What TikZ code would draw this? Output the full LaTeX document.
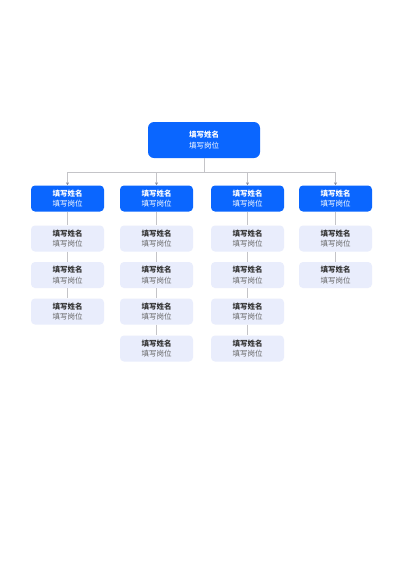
\documentclass[tikz,border=0pt]{standalone}
\usepackage{fontspec}
\setmainfont{Noto Sans CJK SC}
\usetikzlibrary{arrows.meta}
\definecolor{mainblue}{HTML}{0A66FF}
\definecolor{lightbox}{HTML}{E9EDFC}
\definecolor{linegray}{HTML}{C4C4C8}
\definecolor{tipgray}{HTML}{8A8FA0}
\definecolor{namegray}{HTML}{333333}
\definecolor{posgray}{HTML}{666666}
\tikzset{
  topbox/.style={fill=mainblue, rounded corners=6pt, minimum width=112pt, minimum height=36pt, inner sep=0pt, align=center, text=white, font=\fontsize{7.5}{11}\selectfont},
  headbox/.style={fill=mainblue, rounded corners=4pt, minimum width=73pt, minimum height=26pt, inner sep=0pt, align=center, text=white, font=\fontsize{7.5}{10.5}\selectfont},
  subbox/.style={fill=lightbox, rounded corners=4pt, minimum width=73pt, minimum height=26pt, inner sep=0pt, align=center, font=\fontsize{7.5}{10.5}\selectfont},
  conn/.style={draw=linegray, line width=0.6pt, -{Stealth[length=3pt,width=3pt,color=tipgray]}},
  subconn/.style={draw=linegray, line width=0.6pt},
}
\newcommand{\toptext}{\textbf{填写姓名}\\填写岗位}
\newcommand{\subtext}{\textcolor{namegray}{\textbf{填写姓名}}\\\textcolor{posgray}{填写岗位}}
\begin{document}
\begin{tikzpicture}[x=1pt,y=-1pt]
\useasboundingbox[fill=white] (0,0) rectangle (400,566);
\node[topbox] (top) at (204,140) {\toptext};
\coordinate (hy) at (0,172);
\foreach \i/\x in {1/67.5,2/156.5,3/247.5,4/335.5}{
  \node[headbox] (h\i) at (\x,198.5) {\toptext};
}
\foreach \i/\n in {1/3,2/4,3/4,4/2}{
  \foreach \j/\y in {1/238.5,2/275,3/311.5,4/348.5}{
    \ifnum\j>\n\else
      \path (h\i |- 0,\y) node[subbox] (s\i\j) {\subtext};
    \fi
  }
}
\foreach \i in {1,2,3,4}{
  \draw[conn] (top.south) -- (top.south |- hy) -| (h\i.north);
}
\foreach \i/\n in {1/3,2/4,3/4,4/2}{
  \draw[subconn] (h\i.south) -- (s\i1.north);
  \foreach \j [remember=\j as \k (initially 1)] in {2,...,\n}{
    \draw[subconn] (s\i\k.south) -- (s\i\j.north);
  }
}
\end{tikzpicture}
\end{document}
